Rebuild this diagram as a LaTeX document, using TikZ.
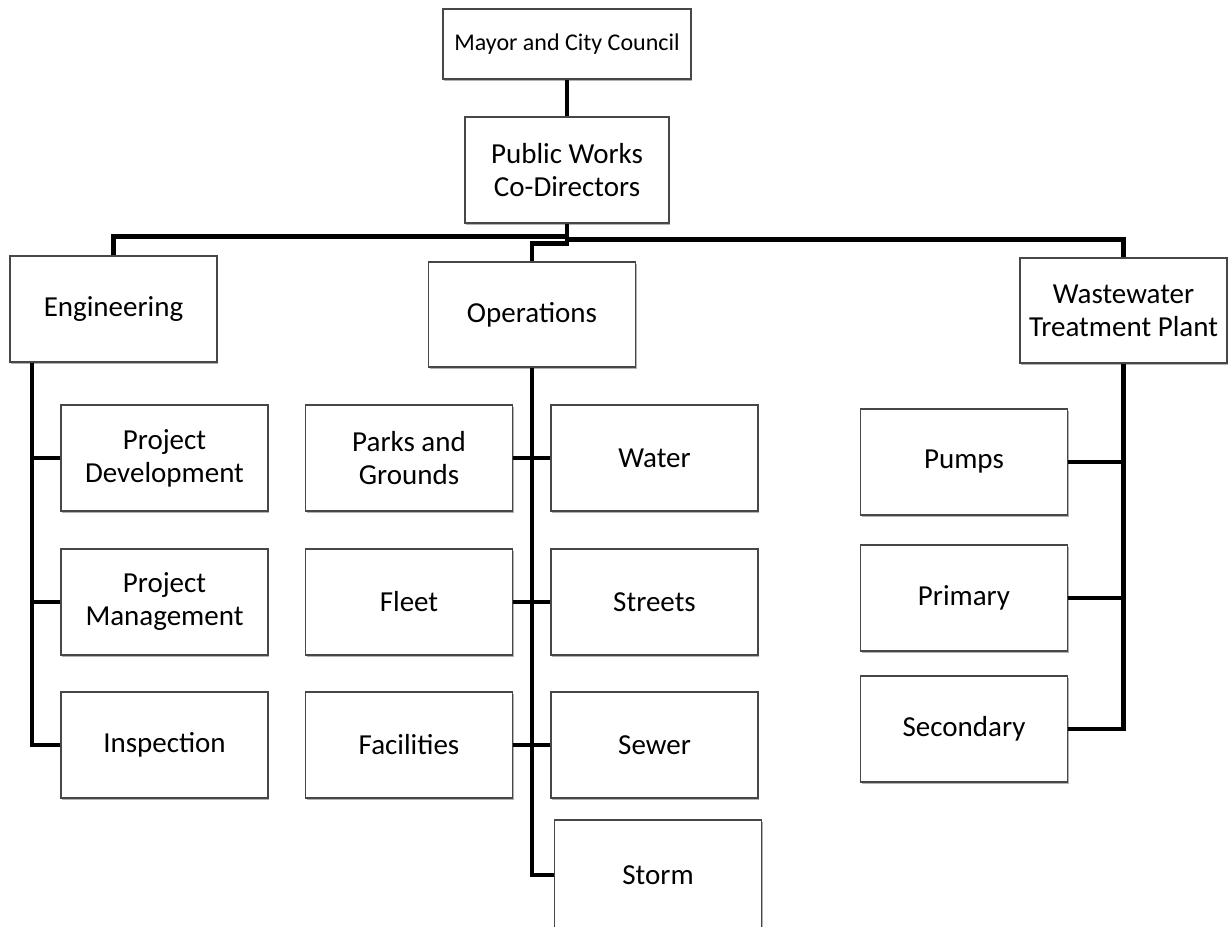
\documentclass[tikz,border=0pt]{standalone}
\usepackage{fontspec}
\setmainfont{Carlito}
\usetikzlibrary{shadows}
\begin{document}
\begin{tikzpicture}[x=1pt,y=-1pt,
  box/.style={draw=black!72, line width=1.3pt, fill=white, align=center,
    minimum width=207pt, minimum height=106pt, inner sep=2pt,
    font=\fontsize{29}{33}\selectfont,
    drop shadow={shadow xshift=1.2pt, shadow yshift=-1.6pt, opacity=0.3, fill=black}},
  trunk/.style={line width=4.5pt, black},
  branch/.style={line width=3.6pt, black}]
\useasboundingbox (0,0) rectangle (1230,926);

% top of the hierarchy
\node[box, minimum width=248pt, minimum height=70pt, font=\fontsize{24}{28}\selectfont]
  (mayor) at (567,44) {Mayor and City Council};
\node[box, minimum width=204pt] (pw) at (567,170) {Public Works\\Co-Directors};

% divisions
\node[box] (eng)  at (113.5,309)  {Engineering};
\node[box, minimum height=105pt] (ops)  at (532,314.5)  {Operations};
\node[box, minimum height=105pt] (wwtp) at (1123.5,310.5) {Wastewater\\Treatment Plant};

% engineering sections
\node[box] (pd)   at (164.5,458) {Project\\Development};
\node[box] (pm)   at (164.5,602) {Project\\Management};
\node[box] (insp) at (164.5,745) {Inspection};

% operations sections
\node[box] (parks)   at (409,458)   {Parks and\\Grounds};
\node[box] (fleet)   at (409,602)   {Fleet};
\node[box] (fac)     at (409,745)   {Facilities};
\node[box] (water)   at (654.5,458) {Water};
\node[box] (streets) at (654.5,602) {Streets};
\node[box] (sewer)   at (654.5,745) {Sewer};
\node[box, minimum height=110pt] (storm) at (658,875) {Storm};

% treatment plant sections
\node[box] (pumps)     at (964,462) {Pumps};
\node[box] (primary)   at (964,598) {Primary};
\node[box] (secondary) at (964,729) {Secondary};

% reporting lines
\draw[trunk] (mayor.south) -- (pw.north);
\draw[trunk] (eng.north) |- ([yshift=-13pt]pw.south);
\draw[trunk] (wwtp.north) |- ([yshift=-16pt]pw.south);
\draw[trunk] (pw.south) -- ([yshift=-20pt]pw.south) -| (ops.north);

% engineering trunk
\coordinate (et) at ([xshift=-81.5pt]eng.south);
\draw[trunk] (et) |- (insp.west);
\draw[branch] (pd.west) -- (pd.west -| et);
\draw[branch] (pm.west) -- (pm.west -| et);

% operations trunk
\draw[trunk] (ops.south) |- (storm.west);
\draw[branch] (parks.east) -- (water.west);
\draw[branch] (fleet.east) -- (streets.west);
\draw[branch] (fac.east) -- (sewer.west);

% treatment plant trunk
\draw[trunk] (wwtp.south) |- (secondary.east);
\draw[branch] (pumps.east) -- (pumps.east -| wwtp.south);
\draw[branch] (primary.east) -- (primary.east -| wwtp.south);
\end{tikzpicture}
\end{document}
